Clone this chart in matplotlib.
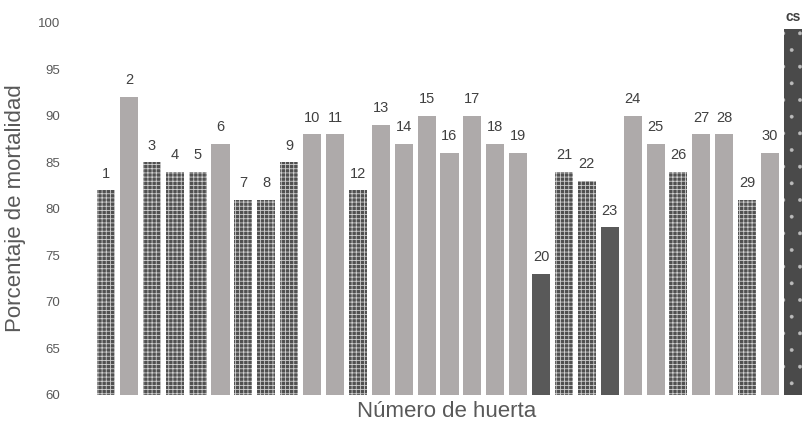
import matplotlib.pyplot as plt

plt.rcParams['font.family'] = ['Liberation Sans', 'DejaVu Sans']

# orchard number -> mortality percentage; last bar is the control (cs)
huertas = [str(i) for i in range(1, 31)] + ['cs']
mortalidad = [82, 92, 85, 84, 84, 87, 81, 81, 85, 88,
              88, 82, 89, 87, 90, 86, 90, 87, 86, 73,
              84, 83, 78, 90, 87, 84, 88, 88, 81, 86, 99.3]
# group of each bar: 'p' patterned, 'g' light grey, 'd' dark, 'c' control
grupo = ['p', 'g', 'p', 'p', 'p', 'g', 'p', 'p', 'p', 'g',
         'g', 'p', 'g', 'g', 'g', 'g', 'g', 'g', 'g', 'd',
         'p', 'p', 'd', 'g', 'g', 'p', 'g', 'g', 'p', 'g', 'c']

estilo = {
    'p': dict(color='#505050', edgecolor='#cfcfcf', hatch='++++', linewidth=0),
    'g': dict(color='#aeaaaa', linewidth=0),
    'd': dict(color='#595959', linewidth=0),
    'c': dict(color='#4a4a4a', edgecolor='#bbbbbb', hatch='.', linewidth=0),
}
grosor_trama = {'p': 0.6, 'g': 1.0, 'd': 1.0, 'c': 0.3}

fig = plt.figure(figsize=(8.03, 4.23), dpi=100)
ax = fig.add_axes([90 / 803, 28 / 423, 713 / 803, 372.3 / 423])

x = list(range(len(huertas)))
for i in x:
    plt.rcParams['hatch.linewidth'] = grosor_trama[grupo[i]]
    ax.bar(i, mortalidad[i] - 60, bottom=60, width=0.79, **estilo[grupo[i]])
    if grupo[i] == 'c':
        ax.annotate(huertas[i], (i, mortalidad[i]), xytext=(0, 4),
                    textcoords='offset points', ha='center', va='bottom',
                    fontsize=10, fontweight='bold', color='#404040',
                    annotation_clip=False)
    else:
        ax.annotate(huertas[i], (i, mortalidad[i]), xytext=(0, 7),
                    textcoords='offset points', ha='center', va='bottom',
                    fontsize=10.5, color='#404040')

ax.set_xlim(-0.7, 30.44)
ax.set_ylim(60, 100)
ax.set_yticks(range(60, 101, 5))
ax.set_xticks([])
ax.tick_params(axis='y', length=0, pad=21.6, labelsize=9.5, labelcolor='#595959')
for s in ax.spines.values():
    s.set_visible(False)

fig.text(16 / 803, 1 - 208 / 423, 'Porcentaje de mortalidad', rotation=90,
         ha='center', va='center', fontsize=16, color='#595959')
fig.text(447 / 803, 1 - 411 / 423, 'Número de huerta', ha='center', va='center',
         fontsize=16, color='#595959')

plt.savefig('out.png', dpi=100)
